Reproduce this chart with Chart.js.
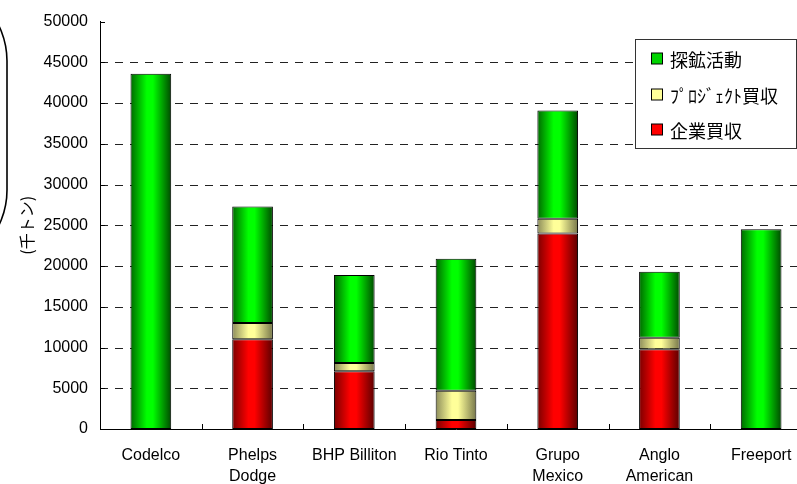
<!DOCTYPE html>
<html>
<head>
<meta charset="utf-8">
<script src="https://cdn.jsdelivr.net/npm/chart.js@4.4.1/dist/chart.umd.min.js"></script>
<style>
  html, body { margin: 0; padding: 0; background: #fff; overflow: hidden; }
  #wrap { width: 816px; height: 484px; }
</style>
</head>
<body>
<div id="wrap"><canvas id="chart" width="816" height="484"></canvas></div>
<script>
// categories and series (thousand tonnes)
var categories = [
  "Codelco", ["Phelps", "Dodge"], "BHP Billiton", "Rio Tinto",
  ["Grupo", "Mexico"], ["Anglo", "American"], "Freeport"
];
var companyAcq = [0, 11000, 7100, 1100, 24000, 9800, 0];     // 企業買収
var projectAcq = [0, 2000, 1000, 3600, 1800, 1400, 0];       // プロジェクト買収
var exploration = [43600, 14300, 10800, 16200, 13300, 8100, 24500]; // 探鉱活動
var yTicks = [0, 5000, 10000, 15000, 20000, 25000, 30000, 35000, 40000, 45000, 50000];

var BAR_PCT = 0.4;

// horizontal shading like the old 3D-ish Excel bars
function shade(dark, bright, darker) {
  return function (ctx) {
    var chart = ctx.chart;
    var x = chart.scales.x;
    if (!x || !chart.chartArea) return bright;
    var cx = x.getPixelForValue(ctx.dataIndex);
    var half = (x.width / categories.length) * BAR_PCT / 2;
    var g = chart.ctx.createLinearGradient(cx - half, 0, cx + half, 0);
    g.addColorStop(0, dark);
    g.addColorStop(0.4, bright);
    g.addColorStop(0.55, bright);
    g.addColorStop(1, darker);
    return g;
  };
}

// dashed gridlines behind the bars
var dashedGrid = {
  id: "dashedGrid",
  beforeDatasetsDraw: function (chart) {
    var ctx = chart.ctx;
    var area = chart.chartArea;
    var y = chart.scales.y;
    ctx.save();
    ctx.strokeStyle = "#222";
    ctx.lineWidth = 1;
    ctx.setLineDash([8, 7]);
    ctx.beginPath();
    yTicks.forEach(function (v) {
      if (v === 0 || v === 50000) return;
      var py = Math.round(y.getPixelForValue(v)) + 0.5;
      ctx.moveTo(area.left, py);
      ctx.lineTo(area.right, py);
    });
    ctx.stroke();
    ctx.restore();
  }
};

// legend box, inner ticks and the clipped frame on the left
var decorations = {
  id: "decorations",
  afterDraw: function (chart) {
    var ctx = chart.ctx;
    var area = chart.chartArea;
    var x = chart.scales.x;
    var y = chart.scales.y;
    ctx.save();

    // inner tick marks
    ctx.strokeStyle = "#000";
    ctx.lineWidth = 1;
    ctx.beginPath();
    yTicks.forEach(function (v) {
      var py = Math.round(y.getPixelForValue(v)) + 0.5;
      ctx.moveTo(area.left, py);
      ctx.lineTo(area.left + 5, py);
    });
    var cw = x.width / categories.length;
    for (var i = 1; i < categories.length; i++) {
      var px = Math.round(area.left + cw * i) + 0.5;
      ctx.moveTo(px, area.bottom);
      ctx.lineTo(px, area.bottom - 5);
    }
    ctx.stroke();

    // rounded frame peeking in from the left
    ctx.lineWidth = 1.6;
    ctx.beginPath();
    ctx.roundRect(-300, -20, 307, 291, 81);
    ctx.stroke();

    // legend
    var lx = 635, ly = 39.5, lw = 161, lh = 109;
    ctx.fillStyle = "#fff";
    ctx.fillRect(lx, ly, lw, lh);
    ctx.strokeStyle = "#333";
    ctx.lineWidth = 1;
    ctx.strokeRect(lx + 0.5, ly, lw, lh);
    var items = [
      { text: chart.data.datasets[2].label, color: "#00d400" },
      { text: chart.data.datasets[1].label, color: "#ffff99" },
      { text: chart.data.datasets[0].label, color: "#ff0000" }
    ];
    var rows = [59, 95, 130];
    ctx.font = "18px 'Noto Sans CJK JP'";
    ctx.textBaseline = "middle";
    items.forEach(function (it, k) {
      var cy = rows[k];
      ctx.fillStyle = it.color;
      ctx.fillRect(651.5, cy - 6, 11, 11);
      ctx.strokeStyle = "#000";
      ctx.strokeRect(651.5, cy - 6, 11, 11);
      ctx.fillStyle = "#000";
      ctx.fillText(it.text, 670, cy + 1);
    });

    ctx.restore();
  }
};

var ctx = document.getElementById("chart").getContext("2d");
new Chart(ctx, {
  type: "bar",
  data: {
    labels: categories,
    datasets: [
      {
        label: "企業買収",
        data: companyAcq,
        backgroundColor: shade("#7a0000", "#ff0000", "#5a0000")
      },
      {
        label: "ﾌﾟﾛｼﾞｪｸﾄ買収",
        data: projectAcq,
        backgroundColor: shade("#8c8c5a", "#ffff99", "#76764a")
      },
      {
        label: "探鉱活動",
        data: exploration,
        backgroundColor: shade("#006800", "#00ff00", "#004a00")
      }
    ]
  },
  options: {
    responsive: false,
    animation: false,
    devicePixelRatio: 1,
    layout: { padding: { top: 19, right: 4, left: 0, bottom: 0 } },
    datasets: {
      bar: {
        categoryPercentage: 1,
        barPercentage: BAR_PCT,
        borderColor: "#000",
        borderWidth: 1,
        borderSkipped: false
      }
    },
    plugins: {
      legend: { display: false },
      tooltip: { enabled: false }
    },
    scales: {
      x: {
        stacked: true,
        grid: { display: false, drawTicks: false },
        border: { color: "#000", width: 1 },
        ticks: {
          color: "#000",
          padding: 16,
          maxRotation: 0,
          autoSkip: false,
          font: { family: "'Liberation Sans', Arial", size: 16, lineHeight: 1.3 }
        },
        afterFit: function (scale) { scale.height = 55; }
      },
      y: {
        stacked: true,
        min: 0,
        max: 50000,
        afterBuildTicks: function (scale) {
          scale.ticks = yTicks.map(function (v) { return { value: v }; });
        },
        grid: { display: false, drawTicks: false },
        border: { color: "#000", width: 1 },
        ticks: {
          color: "#000",
          padding: 12,
          font: { family: "'Liberation Sans', Arial", size: 16 },
          callback: function (v) { return String(v); }
        },
        title: {
          display: true,
          text: "(千トン)",
          color: "#000",
          padding: { top: 17, bottom: 0 },
          font: { family: "'Noto Sans CJK JP'", size: 16 }
        },
        afterFit: function (scale) { scale.width = 100; }
      }
    }
  },
  plugins: [dashedGrid, decorations]
});
</script>
</body>
</html>
